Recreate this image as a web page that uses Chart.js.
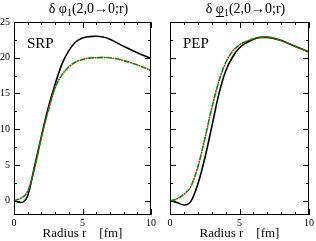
<!DOCTYPE html>
<html>
<head>
<meta charset="utf-8">
<script src="https://cdn.jsdelivr.net/npm/chart.js@4"></script>
<style>
  body { margin: 0; background: #fff; }
  canvas { position: absolute; top: 0; }
</style>
</head>
<body>
<canvas id="srp" width="158" height="241" style="left:0px"></canvas>
<canvas id="pep" width="158" height="241" style="left:158px"></canvas>
<script>
// radius r [fm]
var radius = [0, 0.5, 1, 1.5, 2, 2.5, 3, 3.5, 4, 4.5, 5, 5.5, 6, 6.5, 7, 8, 9, 10];

// SRP panel
var srpBlack = [0, -0.25, 0.7, 4.8, 9.0, 13.0, 16.3, 19.1, 21.0, 22.2, 22.75, 22.95, 23.0, 22.9, 22.6, 21.6, 20.7, 19.9];
var srpGreen = [0, 0.35, 1.3, 4.5, 8.9, 12.6, 15.8, 17.6, 18.7, 19.4, 19.75, 19.95, 20.0, 20.05, 20.0, 19.6, 19.0, 18.2];
var srpRed   = [0, 0.35, 1.3, 4.5, 8.9, 12.6, 15.8, 17.6, 18.7, 19.4, 19.75, 19.95, 20.0, 20.05, 20.0, 19.6, 19.0, 18.2];

// PEP panel
var pepBlack = [0, -0.25, -0.6, -0.1, 2.3, 5.9, 10.3, 14.8, 18.1, 20.1, 21.4, 22.1, 22.6, 22.85, 22.85, 22.4, 21.6, 20.8];
var pepGreen = [0, 0.25, 0.9, 2.0, 4.7, 8.6, 12.9, 16.6, 19.3, 20.9, 21.8, 22.3, 22.65, 22.85, 22.9, 22.4, 21.6, 20.8];
var pepRed   = [0, 0.25, 0.9, 2.0, 4.7, 8.6, 12.9, 16.6, 19.3, 20.9, 21.8, 22.3, 22.65, 22.85, 22.9, 22.4, 21.6, 20.8];

var xTicks = [0, 5, 10];
var xMinor = [1, 2, 3, 4, 6, 7, 8, 9];
var yTicks = [0, 5, 10, 15, 20, 25];
var yMinor = [2.5, 7.5, 12.5, 17.5, 22.5];

var serif = '"Liberation Serif", "Times New Roman", serif';

function pts(ys) {
    return radius.map(function (r, i) { return { x: r, y: ys[i] }; });
}

// frame, inner ticks on all four sides, panel label and title
var framePlugin = {
    id: 'frame',
    afterDatasetsDraw: function (chart, args, opts) {
        var ctx = chart.ctx, a = chart.chartArea;
        var xs = chart.scales.x, ys = chart.scales.y;
        ctx.save();
        ctx.strokeStyle = '#000';
        ctx.lineWidth = 1;
        ctx.strokeRect(a.left + 0.5, a.top + 0.5, a.right - a.left - 1, a.bottom - a.top - 1);

        function xt(v, len) {
            var p = Math.round(xs.getPixelForValue(v)) + 0.5;
            ctx.beginPath();
            ctx.moveTo(p, a.bottom); ctx.lineTo(p, a.bottom - len);
            ctx.moveTo(p, a.top); ctx.lineTo(p, a.top + len);
            ctx.stroke();
        }
        function yt(v, len) {
            var p = Math.round(ys.getPixelForValue(v)) + 0.5;
            ctx.beginPath();
            ctx.moveTo(a.left, p); ctx.lineTo(a.left + len, p);
            ctx.moveTo(a.right, p); ctx.lineTo(a.right - len, p);
            ctx.stroke();
        }
        xTicks.forEach(function (v) { xt(v, 6); });
        xMinor.forEach(function (v) { xt(v, 3); });
        yTicks.forEach(function (v) { yt(v, 6); });
        yMinor.forEach(function (v) { yt(v, 3); });

        ctx.fillStyle = '#000';
        ctx.textBaseline = 'alphabetic';
        ctx.textAlign = 'left';
        ctx.font = '15px ' + serif;
        ctx.fillText(opts.label, a.left + 13, a.top + 26);

        // title: δ φ₁(2,0→0;r)
        var big = '14px ' + serif, small = '10px ' + serif;
        ctx.font = big;
        var w1 = ctx.measureText('δ φ').width;
        var wPhi = ctx.measureText('φ').width;
        var w3 = ctx.measureText('(2,0→0;r)').width;
        ctx.font = small;
        var w2 = ctx.measureText('1').width;
        var total = w1 + w2 + w3;
        var x0 = (a.left + a.right) / 2 + 6 - total / 2;
        var base = 13;
        ctx.font = big;
        ctx.fillText('δ φ', x0, base);
        ctx.font = small;
        ctx.fillText('1', x0 + w1, base + 3);
        ctx.font = big;
        ctx.fillText('(2,0→0;r)', x0 + w1 + w2, base);
        if (opts.underline) {
            ctx.beginPath();
            ctx.moveTo(x0 + w1 - wPhi, base + 3.5);
            ctx.lineTo(x0 + w1, base + 3.5);
            ctx.stroke();
        }
        ctx.restore();
    }
};

function makeChart(id, black, green, red, label, showY, underline) {
    var ctx = document.getElementById(id).getContext('2d');
    return new Chart(ctx, {
        type: 'line',
        data: {
            datasets: [{
                data: pts(green),
                borderColor: 'rgb(0, 140, 0)',
                borderWidth: 1.6,
                borderDash: [6, 3],
                pointRadius: 0,
                cubicInterpolationMode: 'monotone',
                order: 0
            }, {
                data: pts(red),
                borderColor: 'rgb(255, 0, 0)',
                borderWidth: 1.5,
                borderDash: [2, 7],
                borderDashOffset: -6.5,
                pointRadius: 0,
                cubicInterpolationMode: 'monotone',
                order: 1
            }, {
                data: pts(black),
                borderColor: '#000',
                borderWidth: 1.6,
                pointRadius: 0,
                cubicInterpolationMode: 'monotone',
                order: 2
            }]
        },
        options: {
            responsive: false,
            animation: false,
            layout: {
                padding: { top: 22, right: showY ? 4 : 6, left: 0, bottom: 0 }
            },
            plugins: {
                legend: { display: false },
                tooltip: { enabled: false },
                title: { display: false },
                frame: { label: label, underline: underline }
            },
            scales: {
                x: {
                    type: 'linear',
                    min: 0,
                    max: 10,
                    afterBuildTicks: function (s) { s.ticks = xTicks.map(function (v) { return { value: v }; }); },
                    afterFit: function (s) { s.height = 26; },
                    grid: { display: false, drawTicks: false },
                    border: { display: false },
                    ticks: {
                        color: '#000',
                        padding: 2,
                        maxRotation: 0,
                        font: { family: serif, size: 10 }
                    },
                    title: {
                        display: true,
                        text: 'Radius r    [fm]',
                        color: '#000',
                        padding: 0,
                        font: { family: serif, size: 13 }
                    }
                },
                y: {
                    min: -2,
                    max: 25,
                    afterBuildTicks: function (s) { s.ticks = yTicks.map(function (v) { return { value: v }; }); },
                    afterFit: function (s) { s.width = showY ? 14 : 12; },
                    grid: { display: false, drawTicks: false },
                    border: { display: false },
                    ticks: {
                        display: showY,
                        color: '#000',
                        padding: 4,
                        font: { family: serif, size: 10 }
                    }
                }
            }
        },
        plugins: [framePlugin]
    });
}

makeChart('srp', srpBlack, srpGreen, srpRed, 'SRP', true, false);
makeChart('pep', pepBlack, pepGreen, pepRed, 'PEP', false, true);
</script>
</body>
</html>
